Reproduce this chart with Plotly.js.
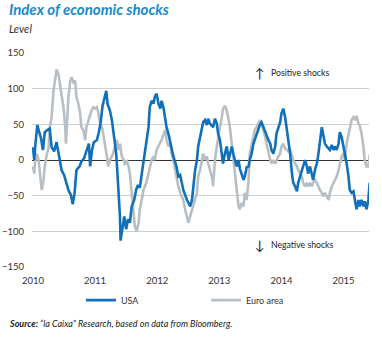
<!DOCTYPE html>
<html>
<head>
<meta charset="utf-8">
<script src="https://cdn.plot.ly/plotly-3.0.1.min.js"></script>
<style>html,body{margin:0;padding:0;background:#fff;}#chart{width:382px;height:338px;}</style>
</head>
<body>
<div id="chart"></div>
<script>
// Dates as decimal years
const usaDates = [2010.00,2010.02,2010.04,2010.07,2010.10,2010.13,2010.16,2010.19,2010.23,2010.27,2010.30,2010.34,2010.38,2010.42,2010.46,2010.50,2010.53,2010.57,2010.61,2010.64,2010.67,2010.70,2010.75,2010.78,2010.82,2010.86,2010.90,2010.92,2010.95,2010.98,2011.03,2011.06,2011.09,2011.12,2011.15,2011.18,2011.20,2011.24,2011.27,2011.30,2011.34,2011.36,2011.38,2011.40,2011.41,2011.43,2011.47,2011.50,2011.53,2011.56,2011.59,2011.63,2011.66,2011.69,2011.72,2011.76,2011.79,2011.82,2011.86,2011.88,2011.91,2011.94,2011.96,2011.99,2012.02,2012.05,2012.07,2012.10,2012.13,2012.15,2012.18,2012.21,2012.23,2012.26,2012.31,2012.34,2012.37,2012.39,2012.42,2012.48,2012.50,2012.53,2012.56,2012.58,2012.61,2012.64,2012.66,2012.69,2012.72,2012.74,2012.77,2012.80,2012.82,2012.85,2012.90,2012.93,2012.96,2012.98,2013.01,2013.04,2013.06,2013.09,2013.12,2013.15,2013.17,2013.20,2013.23,2013.25,2013.28,2013.31,2013.33,2013.39,2013.41,2013.44,2013.47,2013.49,2013.52,2013.55,2013.57,2013.60,2013.63,2013.66,2013.68,2013.71,2013.74,2013.76,2013.79,2013.82,2013.84,2013.87,2013.90,2013.92,2013.95,2013.98,2014.00,2014.03,2014.06,2014.09,2014.11,2014.14,2014.17,2014.19,2014.22,2014.25,2014.27,2014.30,2014.33,2014.35,2014.38,2014.41,2014.43,2014.46,2014.49,2014.51,2014.54,2014.57,2014.59,2014.62,2014.65,2014.67,2014.70,2014.73,2014.76,2014.78,2014.81,2014.84,2014.86,2014.89,2014.92,2014.94,2014.97,2015.00,2015.02,2015.05,2015.08,2015.10,2015.13,2015.16,2015.19,2015.21,2015.24,2015.26,2015.29,2015.32,2015.34,2015.37,2015.40,2015.42];
const usaValues = [18,0,23,49,39,30,14,39,42,44,18,12,25,5,-14,-21,-30,-42,-49,-62,-46,-14,-9,-2,2,14,23,-9,14,25,28,39,53,76,88,97,79,69,56,35,9,-19,-46,-79,-113,-102,-79,-97,-83,-88,-65,-56,-42,-35,-39,-14,5,23,46,74,83,79,88,93,79,72,83,74,58,46,37,23,14,5,-9,-23,-21,-32,-42,-56,-60,-65,-56,-37,-14,0,19,32,46,53,56,49,58,51,46,58,51,37,28,5,-5,9,19,0,9,19,7,0,-9,0,-12,-28,-23,-10,-9,0,9,23,28,37,42,51,53,46,37,32,28,23,14,9,19,37,46,53,65,72,60,42,28,9,-19,-32,-37,-44,-32,-23,-14,-9,0,-9,-19,-9,-19,-28,-14,-5,5,23,46,37,23,19,16,14,21,14,19,14,23,39,32,19,9,-5,-23,-42,-46,-44,-60,-69,-56,-65,-56,-65,-58,-69,-56,-32];

const euroDates = [2010.00,2010.02,2010.03,2010.06,2010.09,2010.11,2010.14,2010.17,2010.19,2010.22,2010.25,2010.27,2010.30,2010.33,2010.35,2010.38,2010.41,2010.43,2010.46,2010.49,2010.52,2010.53,2010.55,2010.57,2010.60,2010.62,2010.65,2010.68,2010.70,2010.73,2010.76,2010.78,2010.81,2010.84,2010.86,2010.89,2010.92,2010.94,2010.97,2011.00,2011.03,2011.05,2011.08,2011.11,2011.13,2011.16,2011.19,2011.21,2011.24,2011.27,2011.29,2011.32,2011.35,2011.38,2011.40,2011.43,2011.46,2011.48,2011.51,2011.54,2011.56,2011.59,2011.62,2011.64,2011.67,2011.70,2011.72,2011.78,2011.83,2011.86,2011.88,2011.91,2011.94,2011.96,2011.99,2012.02,2012.05,2012.07,2012.10,2012.13,2012.15,2012.18,2012.21,2012.23,2012.26,2012.29,2012.31,2012.34,2012.37,2012.39,2012.42,2012.45,2012.48,2012.50,2012.53,2012.56,2012.58,2012.61,2012.64,2012.66,2012.69,2012.72,2012.74,2012.77,2012.80,2012.82,2012.85,2012.88,2012.90,2012.93,2012.96,2012.98,2013.01,2013.04,2013.06,2013.09,2013.12,2013.15,2013.17,2013.20,2013.23,2013.25,2013.28,2013.31,2013.33,2013.36,2013.39,2013.41,2013.44,2013.47,2013.49,2013.52,2013.55,2013.57,2013.60,2013.63,2013.66,2013.68,2013.71,2013.74,2013.76,2013.79,2013.82,2013.84,2013.87,2013.90,2013.92,2013.95,2013.98,2014.00,2014.03,2014.06,2014.09,2014.11,2014.14,2014.17,2014.19,2014.22,2014.25,2014.27,2014.30,2014.33,2014.35,2014.38,2014.41,2014.43,2014.46,2014.49,2014.51,2014.54,2014.57,2014.59,2014.62,2014.65,2014.67,2014.70,2014.73,2014.76,2014.78,2014.81,2014.84,2014.86,2014.89,2014.92,2014.94,2014.97,2015.00,2015.02,2015.05,2015.08,2015.10,2015.13,2015.16,2015.19,2015.21,2015.24,2015.26,2015.29,2015.32,2015.34,2015.37,2015.40,2015.42];
const euroValues = [-9,-19,-5,9,0,-14,-42,-28,-9,7,16,46,60,97,111,127,120,109,93,74,46,23,56,88,111,116,109,111,88,79,65,46,42,28,46,56,65,69,74,72,74,67,51,46,37,23,5,-9,0,5,9,19,28,14,23,5,0,-7,0,-9,-19,-46,-69,-93,-100,-88,-69,-42,-30,-19,-14,0,5,0,14,19,23,28,35,42,28,19,23,9,0,-14,-28,-37,-46,-51,-56,-69,-83,-88,-79,-69,-65,-56,-46,-23,-14,0,9,0,5,-5,-14,-23,-37,0,19,32,46,60,72,76,69,56,46,23,0,-14,-37,-65,-69,-60,-65,-46,-56,-30,9,23,37,42,46,51,56,51,42,32,23,9,0,-5,0,-5,0,5,9,19,23,16,14,12,14,5,0,-5,-9,-14,-19,-23,-32,-37,-32,-37,-32,-37,-32,-28,-32,-37,-42,-46,-51,-46,-51,-56,-46,-37,-32,-28,-23,-14,-5,5,9,0,23,37,46,56,60,56,62,51,49,37,19,0,-9,-9,7];

const seriesNames = ["USA", "Euro area"];
const yTicks = [-150,-100,-50,0,50,100,150];
const xTickVals = [2010,2011,2012,2013,2014,2015];
const xTickText = ["2010","2011","2012","2013","2014","2015"];

const FONT = "Lato, 'Open Sans', sans-serif";

const traces = [
  {x: euroDates, y: euroValues, name: seriesNames[1], type: "scatter", mode: "lines",
   line: {color: "#b8bfc4", width: 2.6}},
  {x: usaDates, y: usaValues, name: seriesNames[0], type: "scatter", mode: "lines",
   line: {color: "#1170ba", width: 2.6}}
];

const layout = {
  width: 382, height: 338,
  margin: {l: 32, r: 13, t: 53, b: 71, autoexpand: false},
  paper_bgcolor: "#fff", plot_bgcolor: "#fff",
  font: {family: FONT, size: 9.5, color: "#333"},
  showlegend: true,
  legend: {orientation: "h", xref: "container", yref: "container",
           x: 0.212, y: 0.112, xanchor: "left", yanchor: "middle",
           traceorder: "reversed", entrywidth: 80, entrywidthmode: "pixels",
           bgcolor: "rgba(0,0,0,0)",
           font: {family: FONT, size: 9, color: "#333"}},
  xaxis: {range: [2009.984, 2015.41], tickvals: xTickVals, ticktext: xTickText,
          showgrid: false, zeroline: false, showline: false, ticks: "", automargin: false,
          ticklabelstandoff: 6,
          tickfont: {family: FONT, size: 9.5, color: "#333"}},
  yaxis: {range: [-150, 150], tickvals: yTicks, showgrid: true, gridcolor: "#cfcfcf", gridwidth: 1,
          zeroline: true, zerolinecolor: "#333", zerolinewidth: 1, showline: false, ticks: "",
          automargin: false, ticklabelstandoff: 7,
          tickfont: {family: FONT, size: 9.5, color: "#333"}},
  annotations: [
    {xref: "paper", yref: "paper", x: -0.075, y: 1.205, xanchor: "left", yanchor: "middle",
     text: "<b><i>Index of economic shocks</i></b>", showarrow: false,
     font: {family: FONT, size: 15, color: "#1a8ad0"}},
    {xref: "paper", yref: "paper", x: -0.075, y: 1.115, xanchor: "left", yanchor: "middle",
     text: "<i>Level</i>", showarrow: false, font: {family: FONT, size: 11, color: "#333"}},
    {x: 2013.66, y: 122, xanchor: "center", yanchor: "middle", text: "↑", showarrow: false,
     font: {family: FONT, size: 13, color: "#222"}},
    {x: 2013.80, y: 122, xanchor: "left", yanchor: "middle", text: "Positive shocks", showarrow: false,
     font: {family: FONT, size: 8.7, color: "#222"}},
    {x: 2013.66, y: -119, xanchor: "center", yanchor: "middle", text: "↓", showarrow: false,
     font: {family: FONT, size: 13, color: "#222"}},
    {x: 2013.80, y: -119, xanchor: "left", yanchor: "middle", text: "Negative shocks", showarrow: false,
     font: {family: FONT, size: 8.7, color: "#222"}},
    {xref: "paper", yref: "paper", x: -0.075, y: -0.265, xanchor: "left", yanchor: "middle",
     text: "<b><i>Source:</i></b><i> \u201Cla Caixa\u201D Research, based on data from Bloomberg.</i>",
     showarrow: false, font: {family: FONT, size: 9, color: "#222"}}
  ]
};

Plotly.newPlot("chart", traces, layout, {displayModeBar: false, staticPlot: true});
</script>
</body>
</html>
